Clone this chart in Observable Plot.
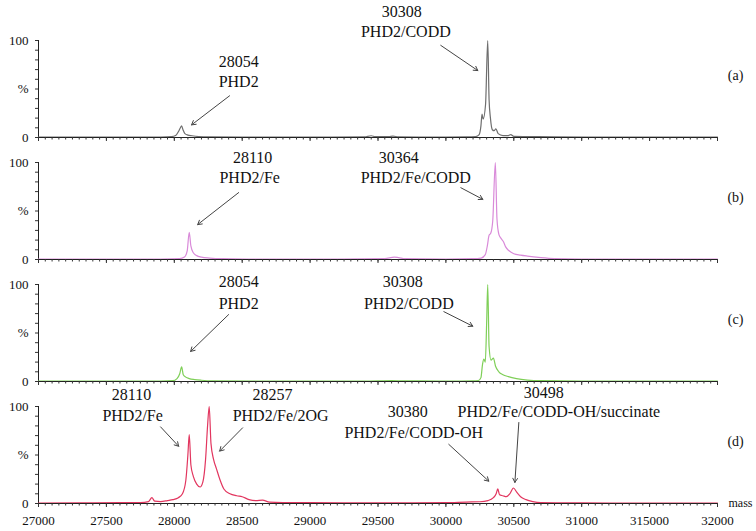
<!DOCTYPE html>
<html><head><meta charset="utf-8">
<script src="https://cdn.jsdelivr.net/npm/d3@7"></script>
<script src="https://cdn.jsdelivr.net/npm/@observablehq/plot@0.6"></script>
<style>
html,body{margin:0;padding:0;background:#fff;}
#chart{width:756px;height:531px;}
</style></head><body><div id="chart"></div>
<script>
// ---- data ----
const panels = ["a", "b", "c", "d"];
const panelNames = ["(a)", "(b)", "(c)", "(d)"];
const panelColors = ["#6e6e6e", "#d98ad9", "#7fcf58", "#e2365f"];

// [mass, % intensity]
const spectrumA = [
  [27000,0.3],[27300,0.4],[27600,0.3],[27900,0.5],[27980,0.8],[28010,2],[28030,6],[28045,10],[28054,12],[28064,8],[28078,4],[28100,2.5],[28130,1.8],[28180,1],[28260,0.6],[28500,0.4],[29000,0.4],[29400,0.6],[29450,1.8],[29480,0.8],[29580,0.8],[29610,1.5],[29650,0.6],[30000,0.5],[30150,0.6],[30220,1],[30245,3],[30258,12],[30266,24],[30274,19],[30292,34],[30308,100],[30318,39],[30328,20],[30342,8],[30355,7],[30368,9],[30385,4],[30420,2],[30460,2],[30478,3],[30500,1.2],[30600,1],[30800,0.6],[31200,0.4],[31600,0.4],[32000,0.3]
];
const spectrumB = [
  [27000,0.3],[27500,0.4],[27900,0.5],[28040,0.8],[28075,2.5],[28095,9],[28110,28],[28122,14],[28140,7],[28165,4],[28200,2.5],[28260,1.5],[28350,0.8],[28600,0.5],[29200,0.5],[29550,0.8],[29620,2.5],[29650,2],[29700,0.8],[30000,0.5],[30200,0.8],[30260,1.5],[30290,5],[30305,14],[30318,25],[30330,27],[30345,40],[30364,100],[30376,42],[30390,26],[30405,22],[30425,18],[30440,13],[30465,9],[30500,6],[30550,4.5],[30600,3.5],[30700,2],[30800,1],[31000,0.5],[31500,0.4],[32000,0.3]
];
const spectrumC = [
  [27000,0.3],[27500,0.4],[27900,0.5],[27990,0.8],[28020,3],[28040,8],[28054,15],[28066,7],[28085,4.5],[28110,3],[28150,2],[28200,1.3],[28280,0.7],[28600,0.4],[29300,0.4],[29500,0.6],[29600,0.8],[30000,0.5],[30200,0.6],[30240,1],[30258,4],[30270,18],[30280,23],[30290,20],[30300,60],[30308,100],[30318,36],[30332,22],[30350,24],[30365,16],[30390,10],[30420,7],[30460,5],[30520,3],[30600,1.5],[30700,0.8],[31000,0.5],[31500,0.4],[32000,0.3]
];
const spectrumD = [
  [27000,0.4],[27300,0.6],[27600,0.8],[27750,1],[27810,2],[27835,6],[27855,2.5],[27900,2],[27950,3],[27990,4],[28030,6],[28060,10],[28085,24],[28100,50],[28110,71],[28122,40],[28140,28],[28165,20],[28190,17],[28210,22],[28230,45],[28245,80],[28257,100],[28270,62],[28290,45],[28310,36],[28335,25],[28365,15],[28410,10],[28460,8],[28500,7],[28550,4],[28600,3],[28650,3.5],[28700,1.5],[28800,1],[29000,0.8],[29500,0.7],[30000,0.8],[30150,1.5],[30250,1.8],[30310,3],[30350,6],[30370,10],[30382,15],[30395,9],[30420,8],[30445,7],[30470,10],[30498,16],[30520,12],[30550,7],[30590,4],[30640,2],[30700,1],[31000,0.6],[31500,0.4],[32000,0.3]
];
const spectra = [spectrumA, spectrumB, spectrumC, spectrumD];

const tickValues = [27000,27500,28000,28500,29000,29500,30000,30500,31000,31500,32000];
const tickLabels = ["27000","27500","28000","28500","29000","29500","30000","30500","31000","315000","32000"];

// peak annotations: text placed in data units (mass, %)
const annotationTexts = [
  {panel:"a", mass:29675, pct:129, text:"30308"},
  {panel:"a", mass:29705, pct:109, text:"PHD2/CODD"},
  {panel:"a", mass:28474, pct:78, text:"28054"},
  {panel:"a", mass:28474, pct:57, text:"PHD2"},
  {panel:"b", mass:29653, pct:105, text:"30364"},
  {panel:"b", mass:29778, pct:84.5, text:"PHD2/Fe/CODD"},
  {panel:"b", mass:28577, pct:105, text:"28110"},
  {panel:"b", mass:28555, pct:84.5, text:"PHD2/Fe"},
  {panel:"c", mass:29682, pct:103, text:"30308"},
  {panel:"c", mass:29727, pct:80, text:"PHD2/CODD"},
  {panel:"c", mass:28474, pct:103, text:"28054"},
  {panel:"c", mass:28474, pct:80, text:"PHD2"},
  {panel:"d", mass:27685, pct:112, text:"28110"},
  {panel:"d", mass:27693, pct:90, text:"PHD2/Fe"},
  {panel:"d", mass:28724, pct:112, text:"28257"},
  {panel:"d", mass:28783, pct:90, text:"PHD2/Fe/2OG"},
  {panel:"d", mass:29719, pct:94, text:"30380"},
  {panel:"d", mass:29763, pct:73, text:"PHD2/Fe/CODD-OH"},
  {panel:"d", mass:30721, pct:114, text:"30498"},
  {panel:"d", mass:30832, pct:94, text:"PHD2/Fe/CODD-OH/succinate"}
];
const annotationArrows = [
  {panel:"a", m1:29962, p1:95, m2:30235, p2:69},
  {panel:"a", m1:28407, p1:43, m2:28127, p2:13},
  {panel:"b", m1:30110, p1:74, m2:30272, p2:62},
  {panel:"b", m1:28474, p1:69, m2:28172, p2:36},
  {panel:"c", m1:29985, p1:72, m2:30198, p2:57},
  {panel:"c", m1:28400, p1:69, m2:28120, p2:31},
  {panel:"d", m1:27899, p1:79, m2:28032, p2:59},
  {panel:"d", m1:28503, p1:78, m2:28334, p2:54},
  {panel:"d", m1:30021, p1:61, m2:30316, p2:23},
  {panel:"d", m1:30537, p1:83.5, m2:30508, p2:21.7}
];

// ---- build ----
const rows = spectra.flatMap((s, i) => s.map(([mass, pct]) => ({panel: panels[i], mass, pct})));
const panelTags = panels.map((p, i) => ({panel: p, text: panelNames[i], mass: 32133, pct: 64}));
const serif = "Liberation Serif, Times New Roman, serif";

const chart = Plot.plot({
  width: 756,
  height: 531,
  marginLeft: 38,
  marginRight: 39,
  marginTop: 38,
  marginBottom: 27,
  style: {fontFamily: serif, fontSize: "13px", color: "#111", background: "#fff", overflow: "visible"},
  x: {domain: [27000, 32000]},
  y: {domain: [0, 100]},
  fy: {domain: panels, axis: null, paddingInner: 0.206, paddingOuter: 0},
  marks: [
    Plot.ruleX([27000], {stroke: "#222", strokeWidth: 1}),
    ...panels.map((p, i) => Plot.line(rows.filter(r => r.panel === p), {
      x: "mass", y: "pct", fy: "panel", stroke: panelColors[i], strokeWidth: 1.2, curve: "monotone-x"
    })),
    Plot.ruleY([0], {stroke: "#222", strokeWidth: 1}),
    Plot.axisX({ticks: d3.range(27000, 32001, 50), tickSize: 2.5, fill: "none", stroke: "#333", label: null, facetAnchor: null}),
    Plot.axisX({ticks: tickValues, tickSize: 4, fill: "none", stroke: "#333", label: null, facetAnchor: null}),
    Plot.axisX({ticks: tickValues, tickSize: 0, tickPadding: 12, label: null, fontSize: 13,
      tickFormat: d => tickLabels[tickValues.indexOf(d)]}),
    Plot.axisY({ticks: d3.range(0, 101, 10), tickSize: 3, fill: "none", stroke: "#333", label: null}),
    Plot.axisY({ticks: [0, 50, 100], tickSize: 0, tickPadding: 10, label: null, fontSize: 13,
      tickFormat: d => d === 50 ? "%" : String(d)}),
    Plot.arrow(annotationArrows, {x1: "m1", y1: "p1", x2: "m2", y2: "p2", fy: "panel",
      stroke: "#444", strokeWidth: 1, headLength: 7}),
    Plot.text(annotationTexts, {x: "mass", y: "pct", fy: "panel", text: "text",
      fontSize: 16, fill: "#111"}),
    Plot.text(panelTags, {x: "mass", y: "pct", fy: "panel", text: "text", fontSize: 14, fill: "#111"}),
    Plot.text([{panel: "d", mass: 32081, pct: 0, text: "mass"}], {x: "mass", y: "pct", fy: "panel", text: "text",
      textAnchor: "start", fontSize: 12, fill: "#111"})
  ]
});
document.getElementById("chart").appendChild(chart);
</script>
</body></html>
